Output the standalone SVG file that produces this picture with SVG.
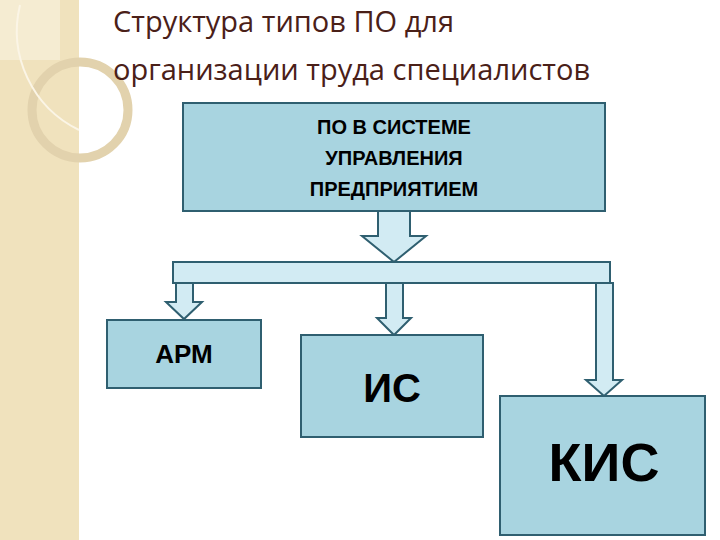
<svg xmlns="http://www.w3.org/2000/svg" width="720" height="540" viewBox="0 0 720 540">
<style>
.box{fill:#a8d4e0;stroke:#2f5f70;stroke-width:2}
.arr{fill:#d2ebf3;stroke:#2f5f70;stroke-width:2;stroke-linejoin:miter}
.t{font-family:"Liberation Sans",Arial,sans-serif;font-weight:bold;fill:#000;text-anchor:middle}
.title{font-family:"Open Sans","Noto Sans",sans-serif;font-size:29px;fill:#4a2018}
</style>
<rect width="720" height="540" fill="#fff"/>
<rect x="0" y="0" width="79" height="540" fill="#f0e2bd"/>
<rect x="0" y="0" width="60" height="60" fill="#f5ecd2"/>
<circle cx="80" cy="110" r="48" fill="none" stroke="#e2d2ad" stroke-width="9"/>
<path d="M20 5 A110 110 0 0 0 79 130" fill="none" stroke="#fbf5e6" stroke-width="2"/>
<g id="title">
<text class="title" x="113" y="32">Структура типов ПО для</text>
<text class="title" x="113" y="80">организации труда специалистов</text>
</g>
<g id="connectors">
<polygon class="arr" points="378,211 410,211 410,236 426,236 394,262 362,236 378,236"/>
<rect class="arr" x="173" y="262" width="437" height="21"/>
<polygon class="arr" points="176,283 193,283 193,302 202,302 184,319 166,302 176,302"/>
<polygon class="arr" points="386,283 403,283 403,318 411,318 394,335 377,318 386,318"/>
<polygon class="arr" points="596,283 613,283 613,380 622,380 604,396 586,380 596,380"/>
</g>
<g id="top"><rect class="box" x="183" y="103" width="422" height="108"/>
<text class="t" font-size="20" x="394" y="134">ПО В СИСТЕМЕ</text>
<text class="t" font-size="20" x="394" y="165">УПРАВЛЕНИЯ</text>
<text class="t" font-size="20" x="394" y="196">ПРЕДПРИЯТИЕМ</text></g>
<g id="arm"><rect class="box" x="107" y="320" width="154" height="68"/>
<text class="t" font-size="26" x="184" y="363">АРМ</text></g>
<g id="is"><rect class="box" x="301" y="335" width="182" height="102"/>
<text class="t" font-size="40" x="392" y="402">ИС</text></g>
<g id="kis"><rect class="box" x="500" y="396" width="205" height="139"/>
<text class="t" font-size="54" x="604" y="481">КИС</text></g>
</svg>
